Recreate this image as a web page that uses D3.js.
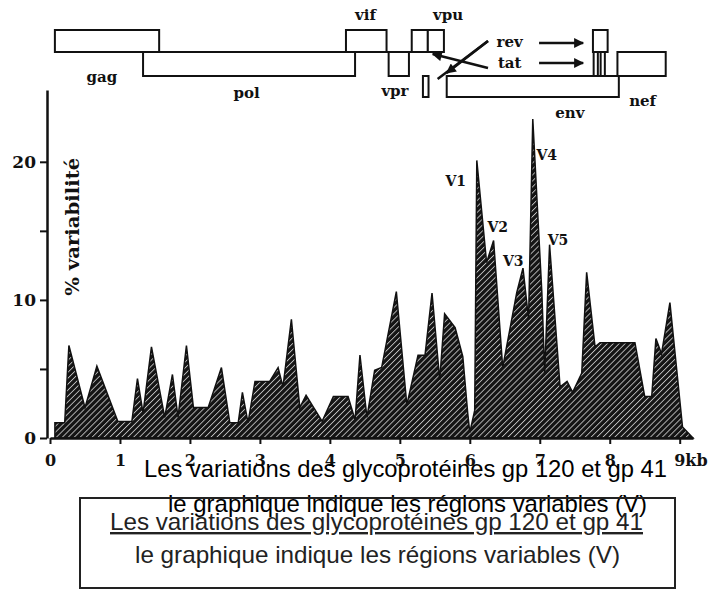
<!DOCTYPE html>
<html>
<head>
<meta charset="utf-8">
<script src="https://cdn.jsdelivr.net/npm/d3@7"></script>
<style>
  body { margin: 0; background: #fff; }
  svg { display: block; }
  .serif { font-family: "DejaVu Serif", serif; font-weight: bold; fill: #111; }
  .sans { font-family: "Liberation Sans", Arial, sans-serif; }
</style>
</head>
<body>
<div id="chart"></div>
<script>
// positions along the genome (kb) and % variability
const kbPos = [0.07, 0.07, 0.21, 0.27, 0.5, 0.67, 0.97, 1.17, 1.25, 1.33, 1.45, 1.64, 1.75, 1.83, 1.95, 2.05, 2.26, 2.45, 2.57, 2.69, 2.75, 2.83, 2.93, 3.14, 3.26, 3.33, 3.45, 3.57, 3.66, 3.89, 4.05, 4.26, 4.36, 4.43, 4.53, 4.64, 4.74, 4.95, 5.1, 5.26, 5.36, 5.46, 5.57, 5.64, 5.79, 5.9, 5.97, 6.0, 6.07, 6.1, 6.24, 6.34, 6.47, 6.67, 6.76, 6.84, 6.9, 7.03, 7.07, 7.14, 7.29, 7.39, 7.47, 7.6, 7.67, 7.79, 7.86, 8.36, 8.5, 8.6, 8.66, 8.74, 8.86, 9.04, 9.19];
const variabilite = [0, 1.1, 1.1, 6.7, 2.2, 5.2, 1.2, 1.2, 4.3, 1.8, 6.6, 1.5, 4.6, 1.5, 6.7, 2.2, 2.2, 5.1, 1.1, 1.1, 3.3, 1.1, 4.1, 4.1, 5.1, 3.7, 8.6, 2.2, 3.1, 1.2, 3.0, 3.0, 1.3, 6.0, 1.5, 4.9, 5.1, 10.6, 2.4, 6.0, 6.0, 10.5, 4.2, 9.0, 8.0, 5.9, 1.8, 0.4, 2.0, 20.1, 12.7, 14.3, 5.1, 10.5, 12.3, 8.6, 23.1, 10.5, 4.7, 14.0, 3.7, 4.1, 3.3, 4.7, 12.0, 6.6, 6.9, 6.9, 3.0, 3.0, 7.2, 6.1, 9.8, 0.8, 0];

const xTicks = [0, 1, 2, 3, 4, 5, 6, 7, 8, 9];
const yTicks = [0, 5, 10, 15, 20];

// variable regions
const vNames = ["V1", "V2", "V3", "V4", "V5"];
const vKb = [5.8, 6.4, 6.62, 7.1, 7.26];
const vVal = [18.6, 15.3, 12.8, 20.5, 14.3];

// gene map: name, start kb, end kb, row (0 top, 1 middle, 2 bottom)
const geneNames = ["gag", "pol", "vif", "vpr", "vpu", "vpu", "tat", "env", "rev", "tat", "tat", "nef"];
const geneStart = [0.07, 1.33, 4.23, 4.84, 5.17, 5.40, 5.33, 5.67, 7.76, 7.77, 7.87, 8.11];
const geneEnd   = [1.56, 4.36, 4.81, 5.13, 5.40, 5.63, 5.41, 8.13, 7.97, 7.83, 7.93, 8.80];
const geneRow   = [0, 1, 0, 1, 0, 0, 2, 2, 0, 1, 1, 1];

// gene labels
const labelText = ["gag", "pol", "vif", "vpu", "vpr", "rev", "tat", "env", "nef"];
const labelKb   = [0.74, 2.81, 4.51, 5.69, 4.93, 6.57, 6.57, 7.43, 8.47];
const labelY    = [77, 93, 15, 15, 91, 42, 63, 113, 101];

const captionTop = ["Les variations des glycoprotéines gp 120 et gp 41", "le graphique indique les régions variables (V)"];
const captionBox = ["Les variations des glycoprotéines gp 120 et gp 41", "le graphique indique les régions variables (V)"];

const width = 725, height = 591;

const svg = d3.select("#chart").append("svg")
  .attr("width", width)
  .attr("height", height);

const defs = svg.append("defs");
const pat = defs.append("pattern")
  .attr("id", "hatch")
  .attr("patternUnits", "userSpaceOnUse")
  .attr("width", 4.2)
  .attr("height", 4.2)
  .attr("patternTransform", "rotate(-45)");
pat.append("rect").attr("width", 4.2).attr("height", 4.2).attr("fill", "#141414");
pat.append("rect").attr("x", 0).attr("y", 0).attr("width", 4.2).attr("height", 0.9).attr("fill", "#bdbdbd");

defs.append("marker")
  .attr("id", "arrow")
  .attr("viewBox", "0 0 10 10")
  .attr("refX", 9).attr("refY", 5)
  .attr("markerWidth", 5).attr("markerHeight", 4)
  .attr("orient", "auto")
  .append("path").attr("d", "M0,0L10,5L0,10z").attr("fill", "#111");

const x = d3.scaleLinear().domain([0, 9.19]).range([50, 693]);
const y = d3.scaleLinear().domain([0, 25.2]).range([438, 90]);

// area
const area = d3.area()
  .x((d, i) => x(kbPos[i]))
  .y0(y(0))
  .y1(d => y(d));

svg.append("path")
  .datum(variabilite)
  .attr("d", area)
  .attr("fill", "url(#hatch)")
  .attr("stroke", "#111")
  .attr("stroke-width", 1.5)
  .attr("stroke-linejoin", "miter");

// axes
const yAxis = svg.append("g")
  .attr("transform", "translate(47,0)")
  .call(d3.axisLeft(y).tickValues(yTicks).tickSize(7).tickSizeOuter(0)
    .tickFormat(d => d % 10 === 0 ? d : ""));
yAxis.select(".domain").attr("stroke", "#111").attr("stroke-width", 2.5);
yAxis.selectAll(".tick line").attr("stroke", "#111").attr("stroke-width", 2);
yAxis.selectAll(".tick text")
  .attr("class", "serif")
  .attr("x", -11)
  .style("font-size", "17px");

const xAxis = svg.append("g")
  .attr("transform", `translate(0,${y(0)})`)
  .call(d3.axisBottom(x).tickValues(xTicks).tickSize(6).tickSizeOuter(0)
    .tickFormat(d => d === 9 ? "9kb" : d));
xAxis.select(".domain").attr("stroke", "#111").attr("stroke-width", 2.5);
xAxis.selectAll(".tick line").attr("stroke", "#111").attr("stroke-width", 2);
xAxis.selectAll(".tick text")
  .attr("class", "serif")
  .attr("y", 17)
  .style("font-size", "16px");
xAxis.selectAll(".tick text").filter(d => d === 9)
  .attr("text-anchor", "start")
  .attr("dx", -6);

svg.append("text")
  .attr("class", "serif")
  .attr("transform", `translate(79,${y(10.3)}) rotate(-90)`)
  .attr("text-anchor", "start")
  .attr("textLength", 138)
  .attr("lengthAdjust", "spacingAndGlyphs")
  .style("font-size", "19px")
  .text("% variabilité");

// V labels
svg.selectAll(".vlab")
  .data(vNames)
  .join("text")
  .attr("class", "serif")
  .attr("x", (d, i) => x(vKb[i]))
  .attr("y", (d, i) => y(vVal[i]))
  .attr("text-anchor", "middle")
  .attr("dy", "0.35em")
  .style("font-size", "14px")
  .text(d => d);

// gene map
const rowTop = [30, 52, 76];
const rowBot = [52, 76, 97];
const gmap = svg.append("g").attr("fill", "none").attr("stroke", "#111").attr("stroke-width", 2);

gmap.append("line")
  .attr("x1", x(0.07)).attr("x2", x(5.63))
  .attr("y1", rowBot[0]).attr("y2", rowBot[0]);
gmap.append("line")
  .attr("x1", x(5.67)).attr("x2", x(8.80))
  .attr("y1", rowBot[1]).attr("y2", rowBot[1]);

gmap.selectAll("rect")
  .data(geneNames)
  .join("rect")
  .attr("x", (d, i) => x(geneStart[i]))
  .attr("width", (d, i) => x(geneEnd[i]) - x(geneStart[i]))
  .attr("y", (d, i) => rowTop[geneRow[i]])
  .attr("height", (d, i) => rowBot[geneRow[i]] - rowTop[geneRow[i]])
  .attr("fill", "#fff");

// rev / tat arrows
gmap.append("line")
  .attr("x1", x(6.99)).attr("x2", x(7.62))
  .attr("y1", 43).attr("y2", 43)
  .attr("stroke-width", 2.5)
  .attr("marker-end", "url(#arrow)");
gmap.append("line")
  .attr("x1", x(6.99)).attr("x2", x(7.62))
  .attr("y1", 63).attr("y2", 63)
  .attr("stroke-width", 2.5)
  .attr("marker-end", "url(#arrow)");
gmap.append("line")
  .attr("x1", x(6.26)).attr("x2", x(5.54))
  .attr("y1", 41).attr("y2", 79)
  .attr("stroke-width", 2.5);
gmap.append("line")
  .attr("x1", x(6.26)).attr("x2", x(5.67))
  .attr("y1", 41).attr("y2", 73)
  .attr("stroke-width", 2.5)
  .attr("marker-end", "url(#arrow)");
gmap.append("line")
  .attr("x1", x(6.26)).attr("x2", x(5.47))
  .attr("y1", 68).attr("y2", 54)
  .attr("stroke-width", 2.5)
  .attr("marker-end", "url(#arrow)");

svg.selectAll(".glab")
  .data(labelText)
  .join("text")
  .attr("class", "serif")
  .attr("x", (d, i) => x(labelKb[i]))
  .attr("y", (d, i) => labelY[i])
  .attr("text-anchor", "middle")
  .attr("dy", "0.35em")
  .style("font-size", "15px")
  .text(d => d);

// captions
svg.selectAll(".capTop")
  .data(captionTop)
  .join("text")
  .attr("class", "sans")
  .attr("x", (d, i) => i === 0 ? 144 : 168)
  .attr("y", (d, i) => 477 + i * 35)
  .attr("textLength", (d, i) => i === 0 ? 523 : 479)
  .attr("lengthAdjust", "spacingAndGlyphs")
  .attr("fill", "#000")
  .style("font-size", "24px")
  .text(d => d);

svg.append("rect")
  .attr("x", 80).attr("y", 498)
  .attr("width", 595).attr("height", 90)
  .attr("fill", "none")
  .attr("stroke", "#222")
  .attr("stroke-width", 2);

svg.selectAll(".capBox")
  .data(captionBox)
  .join("text")
  .attr("class", "sans")
  .attr("x", (d, i) => i === 0 ? 110 : 135)
  .attr("y", (d, i) => 530 + i * 33)
  .attr("textLength", (d, i) => i === 0 ? 533 : 485)
  .attr("lengthAdjust", "spacingAndGlyphs")
  .attr("fill", "#222")
  .style("font-size", "24px")
  .style("text-decoration", (d, i) => i === 0 ? "underline" : "none")
  .text(d => d);
</script>
</body>
</html>
